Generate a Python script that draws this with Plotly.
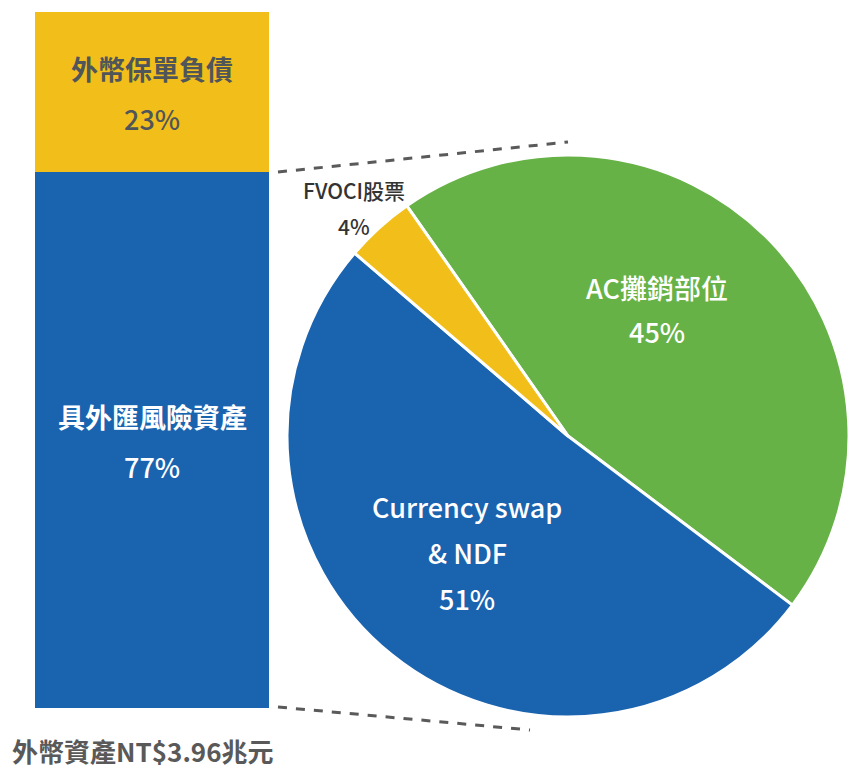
import math
import plotly.graph_objects as go

# ---- data ----
bar_labels = ["具外匯風險資產", "外幣保單負債"]
bar_values = [77, 23]
bar_colors = ["#1A63AF", "#F2BF1A"]
bar_text_colors = ["#FFFFFF", "#50555A"]

pie_labels = ["AC攤銷部位", "Currency swap<br>& NDF", "FVOCI股票"]
pie_values = [45, 51, 4]
pie_colors = ["#66B246", "#1A63AF", "#F2BF1A"]

caption = "外幣資產NT$3.96兆元"

W, H = 849, 768
FONT = "Noto Sans CJK TC"

fig = go.Figure()

# stacked bar
base = 0
for lab, val, col in zip(bar_labels, bar_values, bar_colors):
    fig.add_trace(go.Bar(x=[0], y=[val], base=[base], marker=dict(color=col, line=dict(width=0)),
                         width=1, hoverinfo="skip", showlegend=False))
    base += val

# pie
pie_dom_x = [287 / W, 1.0]
pie_dom_y = [1 - 717 / H, 1 - 155 / H]
rotation = 325
fig.add_trace(go.Pie(labels=pie_labels, values=pie_values, sort=False, direction="clockwise",
                     rotation=rotation, marker=dict(colors=pie_colors, line=dict(color="white", width=3)),
                     textinfo="none", hoverinfo="skip", showlegend=False,
                     domain=dict(x=pie_dom_x, y=pie_dom_y)))

annotations = []
# bar labels
base = 0
for lab, val, tc in zip(bar_labels, bar_values, bar_text_colors):
    mid = base + val / 2
    annotations.append(dict(x=0, y=mid, xref="x", yref="y", text=lab, showarrow=False,
                            yshift=24, font=dict(family=FONT, size=27, color=tc, weight="bold")))
    annotations.append(dict(x=0, y=mid, xref="x", yref="y", text=f"{val}%", showarrow=False,
                            yshift=-26, font=dict(family=FONT, size=27, color=tc, weight=500)))
    base += val

# pie labels
cx_px = (pie_dom_x[0] + pie_dom_x[1]) / 2 * W
cy_px = (1 - (pie_dom_y[0] + pie_dom_y[1]) / 2) * H
R = min((pie_dom_x[1] - pie_dom_x[0]) * W, (pie_dom_y[1] - pie_dom_y[0]) * H) / 2
total = sum(pie_values)
start = rotation
label_cfg = [  # (angle offset from slice mid, radius factor, color, line gap, font size)
    (-11, 0.55, "white", 44, 27),
    (2, 0.55, "white", 46, 27),
    (-1, 1.115, "#333333", 36, 21),
]
for lab, val, (doff, rf, tc, gap, fs) in zip(pie_labels, pie_values, label_cfg):
    span = val / total * 360
    mid = start + span / 2 + doff
    start += span
    th = math.radians(mid)
    px = cx_px + rf * R * math.sin(th)
    py = cy_px - rf * R * math.cos(th)
    lines = lab.split("<br>") + [f"{val}%"]
    n = len(lines)
    for i, ln in enumerate(lines):
        off = (i - (n - 1) / 2) * gap
        annotations.append(dict(x=px / W, y=1 - (py + off) / H, xref="paper", yref="paper",
                                xanchor="center", yanchor="middle",
                                text=ln, showarrow=False,
                                font=dict(family=FONT, size=fs, color=tc, weight=500)))

annotations.append(dict(x=10 / W, y=1 - 750 / H, xref="paper", yref="paper", xanchor="left",
                        yanchor="middle", text=caption, showarrow=False,
                        font=dict(family=FONT, size=26, color="#595959", weight="bold")))

shapes = [
    dict(type="line", xref="paper", yref="paper", x0=278 / W, y0=1 - 172 / H, x1=568 / W, y1=1 - 142 / H,
         line=dict(color="#5A5A5A", width=3, dash="dash")),
    dict(type="line", xref="paper", yref="paper", x0=278 / W, y0=1 - 707 / H, x1=530 / W, y1=1 - 730 / H,
         line=dict(color="#5A5A5A", width=3, dash="dash")),
]

fig.update_layout(
    width=W, height=H, margin=dict(l=0, r=0, t=0, b=0),
    paper_bgcolor="white", plot_bgcolor="white",
    barmode="overlay", bargap=0,
    xaxis=dict(domain=[35 / W, 269 / W], range=[-0.5, 0.5], visible=False, fixedrange=True),
    yaxis=dict(domain=[1 - 708 / H, 1 - 12 / H], range=[0, 100], visible=False, fixedrange=True),
    annotations=annotations, shapes=shapes,
    font=dict(family=FONT),
)

fig.write_html("out.html", config={"displayModeBar": False},
               post_script="document.body.style.margin='0';document.body.style.overflow='hidden';")
